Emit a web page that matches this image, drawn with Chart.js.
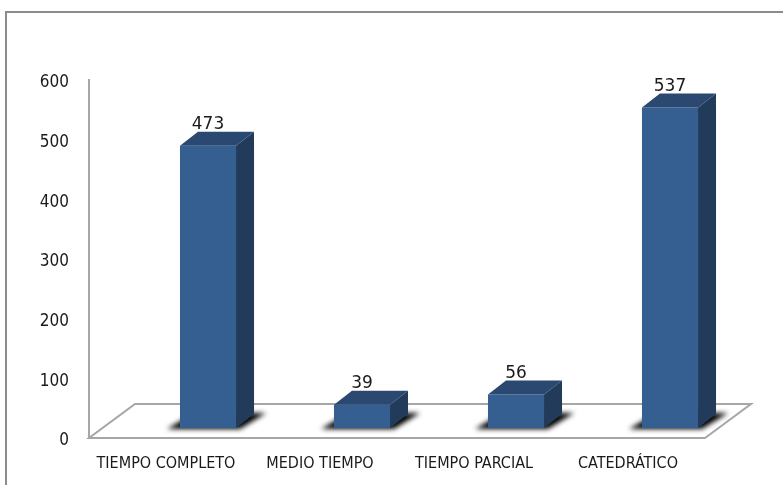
<!DOCTYPE html>
<html>
<head>
<meta charset="utf-8">
<script src="https://cdn.jsdelivr.net/npm/chart.js@4.4.0/dist/chart.umd.min.js"></script>
<style>
  html, body { margin: 0; padding: 0; background: #fff; }
  #wrap { position: relative; width: 783px; height: 485px; }
</style>
</head>
<body>
<div id="wrap"><canvas id="c" width="783" height="485"></canvas></div>
<script>
const categories = ['TIEMPO COMPLETO', 'MEDIO TIEMPO', 'TIEMPO PARCIAL', 'CATEDRÁTICO'];
const values = [473, 39, 56, 537];
const yMin = 0, yMax = 600, yStep = 100;

const FRONT = '#365F91', TOP = '#2B4870', SIDE = '#223B5B';
const FLOOR_DX = 46, FLOOR_DY = -34;   // floor depth
const BAR_DX = 42, BAR_DY = -10;       // bar placement inside floor
const DEPTH_DX = 18, DEPTH_DY = -14;   // bar depth

const threeD = {
  id: 'threeD',
  beforeDraw(chart) {
    const ctx = chart.ctx;
    ctx.save();
    ctx.strokeStyle = '#8C8C8C';
    ctx.lineWidth = 2;
    ctx.strokeRect(6, 12, 800, 500);
    ctx.restore();
  },
  beforeDatasetsDraw(chart) {
    const ctx = chart.ctx, a = chart.chartArea;
    // floor
    ctx.save();
    ctx.beginPath();
    ctx.moveTo(a.left, a.bottom);
    ctx.lineTo(a.right, a.bottom);
    ctx.lineTo(a.right + FLOOR_DX, a.bottom + FLOOR_DY);
    ctx.lineTo(a.left + FLOOR_DX, a.bottom + FLOOR_DY);
    ctx.closePath();
    ctx.fillStyle = '#fff';
    ctx.fill();
    ctx.strokeStyle = '#A6A6A6';
    ctx.lineWidth = 2;
    ctx.stroke();
    ctx.restore();
    // shadows
    const meta = chart.getDatasetMeta(0);
    ctx.save();
    ctx.filter = 'blur(2.5px)';
    ctx.fillStyle = '#000';
    meta.data.forEach(el => {
      const L = el.x - el.width / 2 + BAR_DX, R = el.x + el.width / 2 + BAR_DX, B = el.base + BAR_DY;
      ctx.beginPath();
      ctx.moveTo(L - 13, B + 1);
      ctx.lineTo(R + 4, B + 1);
      ctx.lineTo(R + 30, B - 15);
      ctx.lineTo(L + 14, B - 15);
      ctx.closePath();
      ctx.fill();
    });
    ctx.restore();
    ctx.save();
    ctx.translate(BAR_DX, BAR_DY);
  },
  afterDatasetsDraw(chart) {
    const ctx = chart.ctx;
    ctx.restore();
    const meta = chart.getDatasetMeta(0);
    ctx.save();
    meta.data.forEach((el, i) => {
      const L = el.x - el.width / 2 + BAR_DX, R = el.x + el.width / 2 + BAR_DX;
      const T = el.y + BAR_DY, B = el.base + BAR_DY;
      // side
      ctx.beginPath();
      ctx.moveTo(R, T);
      ctx.lineTo(R + DEPTH_DX, T + DEPTH_DY);
      ctx.lineTo(R + DEPTH_DX, B + DEPTH_DY);
      ctx.lineTo(R, B);
      ctx.closePath();
      ctx.fillStyle = SIDE;
      ctx.fill();
      // top
      ctx.beginPath();
      ctx.moveTo(L, T);
      ctx.lineTo(L + DEPTH_DX, T + DEPTH_DY);
      ctx.lineTo(R + DEPTH_DX, T + DEPTH_DY);
      ctx.lineTo(R, T);
      ctx.closePath();
      ctx.fillStyle = TOP;
      ctx.fill();
      // label
      ctx.fillStyle = '#1a1a1a';
      ctx.font = '17px "DejaVu Sans", sans-serif';
      ctx.textAlign = 'center';
      ctx.textBaseline = 'alphabetic';
      ctx.fillText(String(values[i]), (L + R) / 2, T + DEPTH_DY - 3);
    });
    ctx.restore();
  }
};

new Chart(document.getElementById('c'), {
  type: 'bar',
  data: {
    labels: categories,
    datasets: [{
      data: values,
      backgroundColor: FRONT,
      borderWidth: 0,
      barPercentage: 0.364,
      categoryPercentage: 1.0
    }]
  },
  options: {
    responsive: false,
    animation: false,
    devicePixelRatio: 1,
    layout: { padding: { left: 6, right: 78, top: 80, bottom: 0 } },
    plugins: { legend: { display: false }, tooltip: { enabled: false } },
    scales: {
      x: {
        grid: { display: false, drawTicks: false },
        border: { display: false },
        ticks: {
          color: '#1a1a1a',
          font: { family: '"Liberation Sans Narrow", "DejaVu Sans Condensed", sans-serif', size: 16 },
          padding: 16,
          maxRotation: 0,
          autoSkip: false
        },
        afterFit(s) { s.height = 485 - 438; }
      },
      y: {
        min: yMin, max: yMax,
        grid: { display: false, drawTicks: false },
        border: { display: true, color: '#A6A6A6', width: 2 },
        ticks: {
          stepSize: yStep,
          color: '#1a1a1a',
          font: { family: '"Liberation Sans Narrow", "DejaVu Sans Condensed", sans-serif', size: 17 },
          padding: 20,
          labelOffset: 3
        },
        afterFit(s) { s.width = 89 - 6; }
      }
    }
  },
  plugins: [threeD]
});
</script>
</body>
</html>
